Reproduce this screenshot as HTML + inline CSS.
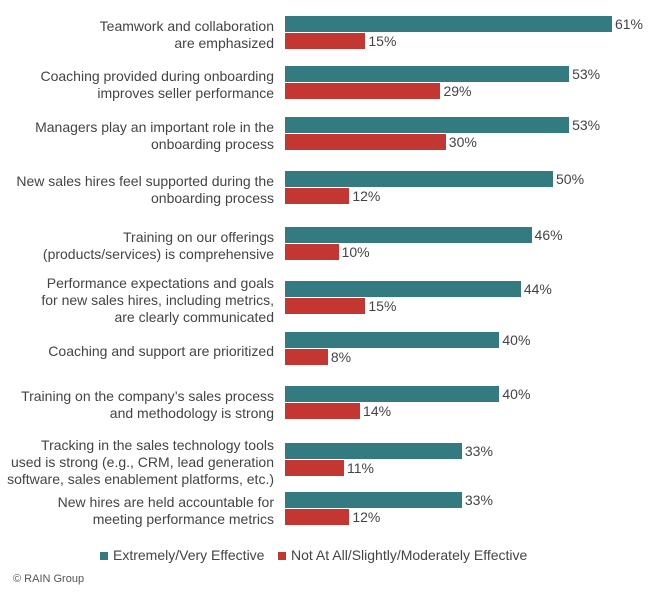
<!DOCTYPE html>
<html><head><style>
body{margin:0;background:#fff;width:650px;height:593px;position:relative;overflow:hidden;font-family:"Liberation Sans",sans-serif;color:#444}
.b{position:absolute;left:285px;height:16px}
.t{background:#337b80}.r{background:#c43632}
.v{position:absolute;font-size:14px;line-height:16px}
.l{position:absolute;right:376px;text-align:right;font-size:14px;line-height:17px;white-space:nowrap}
</style></head><body>
<div id="c"></div>
<div style="position:absolute;left:100px;top:552px;width:8px;height:8px;background:#337b80"></div>
<div style="position:absolute;left:113px;top:547px;font-size:14px">Extremely/Very Effective</div>
<div style="position:absolute;left:278px;top:552px;width:8px;height:8px;background:#c43632"></div>
<div style="position:absolute;left:291px;top:547px;font-size:14px">Not At All/Slightly/Moderately Effective</div>
<div style="position:absolute;left:13px;top:573px;font-size:11px;color:#555">© RAIN Group</div>
<script>
var d=[[16,61,15,["Teamwork and collaboration","are emphasized"]],
[66,53,29,["Coaching provided during onboarding","improves seller performance"]],
[117,53,30,["Managers play an important role in the","onboarding process"]],
[171,50,12,["New sales hires feel supported during the","onboarding process"]],
[227,46,10,["Training on our offerings","(products/services) is comprehensive"]],
[281,44,15,["Performance expectations and goals","for new sales hires, including metrics,","are clearly communicated"]],
[332,40,8,["Coaching and support are prioritized"]],
[386,40,14,["Training on the company’s sales process","and methodology is strong"]],
[443,33,11,["Tracking in the sales technology tools","used is strong (e.g., CRM, lead generation","software, sales enablement platforms, etc.)"]],
[492,33,12,["New hires are held accountable for","meeting performance metrics"]]];
var h="",k=5.36;
d.forEach(function(e){var y=e[0],a=e[1]*k,b=e[2]*k;
h+='<div class="b t" style="top:'+y+'px;width:'+a+'px"></div><div class="b r" style="top:'+(y+17)+'px;width:'+b+'px"></div>';
h+='<div class="v" style="top:'+y+'px;left:'+(288+a)+'px">'+e[1]+'%</div><div class="v" style="top:'+(y+17)+'px;left:'+(288+b)+'px">'+e[2]+'%</div>';
var n=e[3].length,top=y+19-n*17/2;
h+='<div class="l" style="top:'+top+'px">'+e[3].join("<br>")+'</div>';});
document.getElementById("c").innerHTML=h;
</script>
</body></html>
